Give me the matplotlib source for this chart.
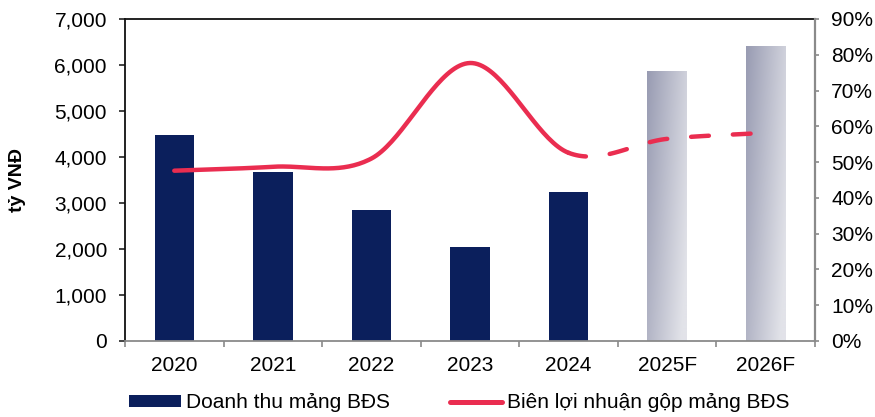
import numpy as np
import matplotlib
matplotlib.use("Agg")
import matplotlib.pyplot as plt
from matplotlib.patches import Patch
from matplotlib.lines import Line2D
from matplotlib.ticker import FuncFormatter, MultipleLocator

plt.rcParams['font.family'] = ['Liberation Sans', 'DejaVu Sans']

years = ["2020", "2021", "2022", "2023", "2024", "2025F", "2026F"]
revenue = [4470, 3670, 2840, 2040, 3230, 5880, 6420]          # tỷ VNĐ
gross_margin = [47.6, 48.7, 51.0, 77.7, 52.6, 56.5, 58.2]      # %
n_actual = 5   # first five years are actual, the rest forecast

NAVY = "#0b1f5c"
RED = "#ea2d50"
FS = 15


def catmull_rom(xs, ys, samples=40):
    """Smooth curve through the points (Excel-style smoothed line)."""
    xs = np.asarray(xs, float)
    ys = np.asarray(ys, float)
    px = np.concatenate([[2 * xs[0] - xs[1]], xs, [2 * xs[-1] - xs[-2]]])
    py = np.concatenate([[2 * ys[0] - ys[1]], ys, [2 * ys[-1] - ys[-2]]])
    out_x, out_y, seg = [], [], []
    for i in range(1, len(px) - 2):
        t = np.linspace(0, 1, samples)
        p0, p1, p2, p3 = (np.array([px[j], py[j]]) for j in (i - 1, i, i + 1, i + 2))
        c1 = p1 + (p2 - p0) / 6
        c2 = p2 - (p3 - p1) / 6
        b = ((1 - t) ** 3)[:, None] * p1 + (3 * (1 - t) ** 2 * t)[:, None] * c1 \
            + (3 * (1 - t) * t ** 2)[:, None] * c2 + (t ** 3)[:, None] * p2
        out_x.append(b[:, 0])
        out_y.append(b[:, 1])
        seg.append(np.full(samples, i - 1))
    return np.concatenate(out_x), np.concatenate(out_y), np.concatenate(seg)


fig = plt.figure(figsize=(8.75, 4.17), dpi=100)
ax = fig.add_axes([125 / 875, 76 / 417, 690 / 875, 322 / 417])
x = np.arange(len(years))
width = 0.40

bars = ax.bar(x, revenue, width=width, color=NAVY, zorder=2)

# forecast bars: soft grey-blue gradient
gx, gy = np.meshgrid(np.linspace(0, 1, 200), np.linspace(0, 1, 200))
mix = np.clip(0.75 * gx + 0.35 * gy, 0, 1)   # darker top-left, lighter bottom-right
c_dark = np.array([0x98, 0x9b, 0xb2]) / 255
c_light = np.array([0xe2, 0xe3, 0xe9]) / 255
img = c_dark[None, None, :] * (1 - mix[..., None]) + c_light[None, None, :] * mix[..., None]
for i in range(n_actual, len(years)):
    b = bars[i]
    b.set_facecolor("none")
    x0, x1 = b.get_x(), b.get_x() + b.get_width()
    im = ax.imshow(img, extent=[x0, x1, 0, b.get_height()], origin="upper",
                   aspect="auto", zorder=2)
    im.set_clip_path(b)

ax.set_xlim(-0.5, len(years) - 0.5)
ax.set_ylim(0, 7000)
ax.yaxis.set_major_locator(MultipleLocator(1000))
ax.yaxis.set_major_formatter(FuncFormatter(lambda v, p: f"{int(v):,}"))
ax.set_xticks(x)
ax.set_xticklabels(years)
ax.set_xticks(np.arange(-0.5, len(years), 1), minor=True)
ax.tick_params(axis="x", which="major", length=0, pad=11, labelsize=FS)
ax.tick_params(axis="x", which="minor", length=4.5, width=1.2, color="#8a8a8a",
               direction="out")
ax.tick_params(axis="y", length=4.5, width=1.2, direction="out", color="#222222",
               labelsize=FS, pad=8.5)
for s in ("left", "top"):
    ax.spines[s].set_color("#111111")
    ax.spines[s].set_linewidth(1.3)
ax.spines["right"].set_visible(False)
ax.spines["bottom"].set_color("#8a8a8a")
ax.spines["bottom"].set_linewidth(1.3)

fig.text(17 / 875, 1 - 180 / 417, "tỷ VNĐ", rotation=90, ha="center", va="center",
         fontsize=14, fontweight="bold")

ax2 = ax.twinx()
ax2.set_ylim(0, 90)
ax2.yaxis.set_major_locator(MultipleLocator(10))
ax2.yaxis.set_major_formatter(FuncFormatter(lambda v, p: f"{int(v)}%"))
ax2.tick_params(axis="y", length=3.2, width=1.2, direction="out", color="#8a8a8a",
                labelsize=FS, pad=8.5)
for s in ("top", "left", "bottom"):
    ax2.spines[s].set_visible(False)
ax2.spines["right"].set_color("#8a8a8a")
ax2.spines["right"].set_linewidth(1.6)

sx, sy, seg = catmull_rom(x, gross_margin)
solid = seg < n_actual - 1
ax2.plot(sx[solid], sy[solid], color=RED, lw=3.2, solid_capstyle="round", zorder=3)
ax2.plot(sx[~solid], sy[~solid], color=RED, lw=3.2, dashes=(4, 5.4),
         dash_capstyle="round", zorder=3)

handles = [Patch(facecolor=NAVY, edgecolor="none"),
           Line2D([0], [0], color=RED, lw=3.6, solid_capstyle="round")]
fig.legend(handles, ["Doanh thu mảng BĐS", "Biên lợi nhuận gộp mảng BĐS"],
           loc="center left", bbox_to_anchor=(129 / 875, 14 / 417), ncol=2,
           frameon=False, borderpad=0, borderaxespad=0, fontsize=FS,
           handlelength=2.5, handleheight=0.48, handletextpad=0.25,
           columnspacing=2.85)

fig.savefig("out.png", dpi=100)
